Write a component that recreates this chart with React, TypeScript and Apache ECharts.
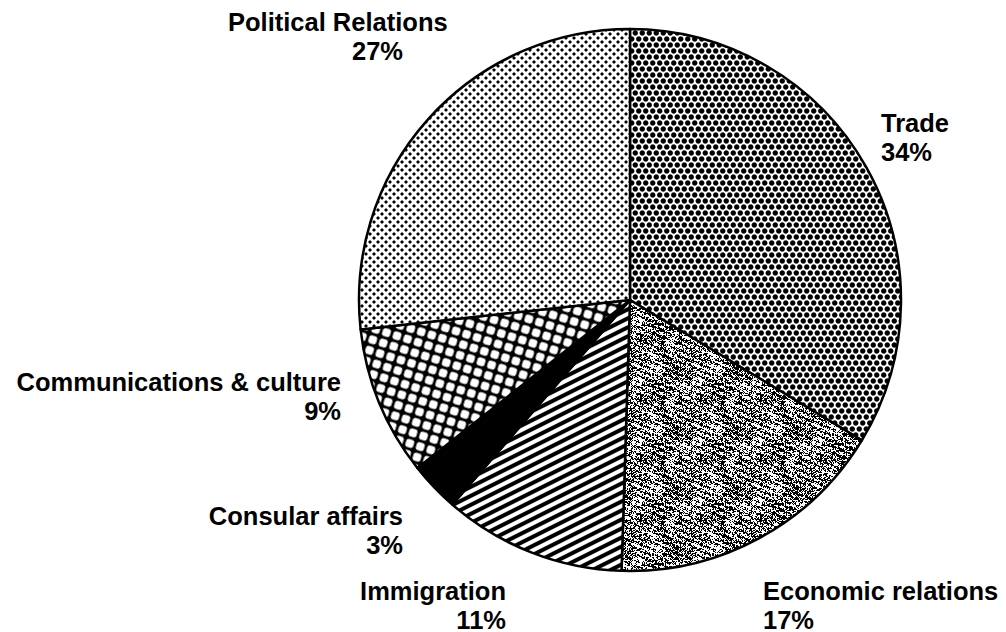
import React, { useEffect, useRef } from 'react';
import * as echarts from 'echarts';

const categories = [
  'Trade',
  'Economic relations',
  'Immigration',
  'Consular affairs',
  'Communications & culture',
  'Political Relations',
];
const shares = [34, 17, 11, 3, 9, 27];

// label placement (style/layout, not data)
const labelPos = [
  { x: 881, y: 137, align: 'left' },
  { x: 763, y: 605, align: 'left' },
  { x: 506, y: 605, align: 'right' },
  { x: 403, y: 530, align: 'right' },
  { x: 341, y: 396, align: 'right' },
  { x: 228, y: 36, align: 'left' },
];

const FONT = 'Liberation Sans, Arial, Helvetica, sans-serif';

const clamp = (v: number) => (v < 0 ? 0 : v > 1 ? 1 : v);

function makeTile(w: number, h: number, fn: (x: number, y: number) => number, extra: any = {}) {
  const c = document.createElement('canvas');
  c.width = w;
  c.height = h;
  const ctx = c.getContext('2d')!;
  const img = ctx.createImageData(w, h);
  for (let y = 0; y < h; y++) {
    for (let x = 0; x < w; x++) {
      const v = clamp(fn(x, y));
      const g = Math.round(255 * (1 - v));
      const i = (y * w + x) * 4;
      img.data[i] = g;
      img.data[i + 1] = g;
      img.data[i + 2] = g;
      img.data[i + 3] = 255;
    }
  }
  ctx.putImageData(img, 0, 0);
  return { image: c, repeat: 'repeat', imageWidth: w, imageHeight: h, ...extra } as any;
}

function dotsTile(w: number, h: number, centers: number[][], r: number) {
  return makeTile(w, h, (x, y) => {
    const px = x + 0.5;
    const py = y + 0.5;
    let best = 1e9;
    for (const [cx, cy] of centers) {
      let dx = Math.abs(px - cx);
      let dy = Math.abs(py - cy);
      dx = Math.min(dx, w - dx);
      dy = Math.min(dy, h - dy);
      best = Math.min(best, Math.sqrt(dx * dx + dy * dy));
    }
    return r + 0.5 - best;
  });
}

function hash(x: number, y: number) {
  const s = Math.sin(x * 12.9898 + y * 78.233) * 43758.5453;
  return s - Math.floor(s);
}

function buildPatterns() {
  const trade = dotsTile(7, 12, [[1.75, 3], [5.25, 9]], 2.65);
  // Economic: stippled grey with diagonal streaks
  const W = 60;
  const G = 10;
  const lattice = (i: number, j: number) => hash(((i % 6) + 6) % 6 + 3.1, ((j % 6) + 6) % 6 + 7.7);
  const valueNoise = (x: number, y: number) => {
    const gx = x / G;
    const gy = y / G;
    const i = Math.floor(gx);
    const j = Math.floor(gy);
    const fx = gx - i;
    const fy = gy - j;
    const sx = fx * fx * (3 - 2 * fx);
    const sy = fy * fy * (3 - 2 * fy);
    const a = lattice(i, j);
    const b = lattice(i + 1, j);
    const c = lattice(i, j + 1);
    const d = lattice(i + 1, j + 1);
    return a + (b - a) * sx + (c - a) * sy + (a - b - c + d) * sx * sy;
  };
  const econ = makeTile(W, W, (x, y) => {
    const c = y - 0.4 * x;
    const band = Math.cos((2 * Math.PI * c) / 6);
    const p = 0.52 + 0.2 * band + 0.4 * (valueNoise(x, y) - 0.5);
    return hash(x + 0.37, y + 0.91) < p ? 1 : 0;
  });
  // Immigration: stripes rising to the right
  const immig = makeTile(18, 9, (x, y) => {
    const c = (((y + 0.5 + (x + 0.5) / 2) % 9) + 9) % 9;
    const inside = c < 4.5;
    const dist = inside ? Math.min(c, 4.5 - c) : Math.min(c - 4.5, 9 - c);
    const pd = dist * 0.894;
    return inside ? 0.5 + pd : 0.5 - pd;
  });
  const consular = '#000';
  // Communications: black grid with white rounded squares
  const comms = makeTile(
    11,
    11,
    (x, y) => {
      const px = x + 0.5 - 5.5;
      const py = y + 0.5 - 5.5;
      const rr = 2.6;
      const half = 4.1;
      const qx = Math.abs(px) - (half - rr);
      const qy = Math.abs(py) - (half - rr);
      const mx = Math.max(qx, 0);
      const my = Math.max(qy, 0);
      const d = Math.sqrt(mx * mx + my * my) + Math.min(Math.max(qx, qy), 0) - rr;
      return d + 0.5;
    },
    { rotation: 0.3 }
  );
  const political = dotsTile(8, 8, [[2, 2], [6, 6]], 1.55);
  return [trade, econ, immig, consular, comms, political];
}

export default function App() {
  const ref = useRef<HTMLDivElement>(null);
  useEffect(() => {
    if (!ref.current) return;
    const chart = echarts.init(ref.current, undefined, { renderer: 'svg' });
    const patterns = buildPatterns();
    const textBase = {
      color: '#000',
      fontFamily: FONT,
      fontWeight: 'bold' as const,
      fontSize: 25.5,
      lineHeight: 29,
    };
    const data = categories.map((name, i) => {
      const item: any = { name, value: shares[i], itemStyle: { color: patterns[i] } };
      if (name === 'Political Relations') {
        item.label = {
          formatter: '{n|{b}}\n{p|{c}%}',
          rich: {
            n: { ...textBase, align: 'left' },
            p: { ...textBase, align: 'left', padding: [0, 0, 0, 124] },
          },
        };
      }
      return item;
    });
    chart.setOption({
      animation: false,
      backgroundColor: '#fff',
      series: [
        {
          type: 'pie',
          center: [630, 300],
          radius: [0, 271],
          startAngle: 90,
          clockwise: true,
          silent: true,
          avoidLabelOverlap: false,
          data,
          itemStyle: { borderColor: '#000', borderWidth: 2.5 },
          label: {
            show: true,
            position: 'outside',
            formatter: '{b}\n{c}%',
            ...textBase,
          },
          labelLine: { show: false },
          labelLayout: (p: any) => {
            const lp = labelPos[p.dataIndex];
            return { x: lp.x, y: lp.y, align: lp.align, verticalAlign: 'middle' };
          },
          emphasis: { disabled: true },
        },
      ],
    });
    return () => chart.dispose();
  }, []);
  return (
    <div
      ref={ref}
      style={{ position: 'fixed', left: 0, top: 0, width: 1006, height: 632, background: '#fff' }}
    />
  );
}
